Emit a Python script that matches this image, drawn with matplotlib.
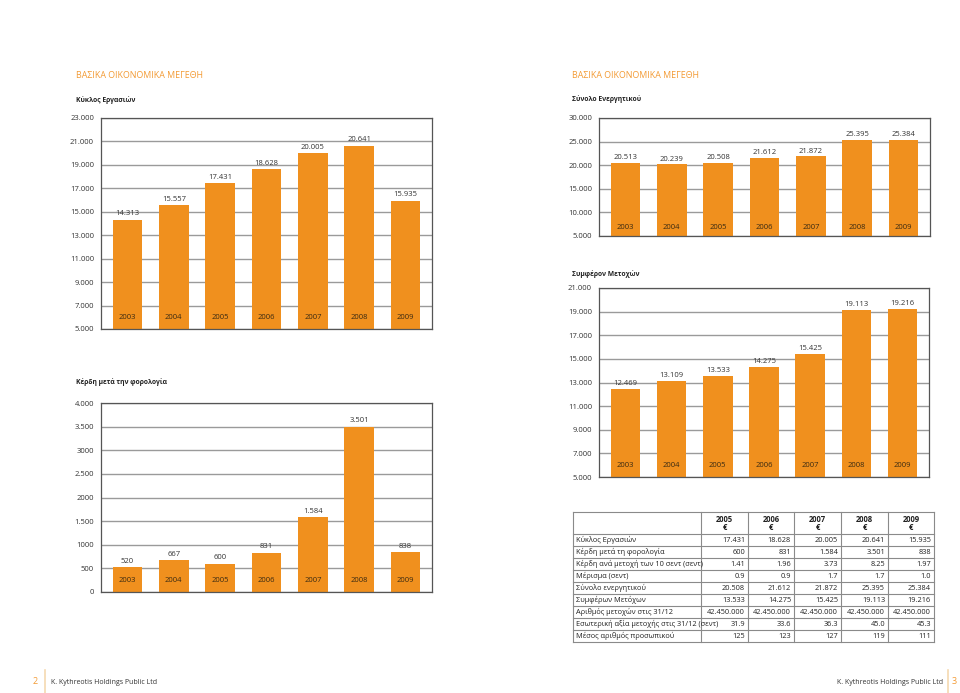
import matplotlib
matplotlib.use("Agg")
import matplotlib.pyplot as plt

plt.rcParams['font.family'] = ['Open Sans', 'DejaVu Sans']

# ------------------------------------
# -------------------data
# ------------------------------------
years = ['2003', '2004', '2005', '2006', '2007', '2008', '2009']

turnover = [14313, 15557, 17431, 18628, 20005, 20641, 15935]
turnover_ticks = ['5.000', '7.000', '9.000', '11.000', '13.000', '15.000',
                  '17.000', '19.000', '21.000', '23.000']

profit = [520, 667, 600, 831, 1584, 3501, 838]
profit_ticks = ['0', '500', '1000', '1.500', '2000', '2.500', '3000', '3.500', '4.000']

assets = [20513, 20239, 20508, 21612, 21872, 25395, 25384]
assets_ticks = ['5.000', '10.000', '15.000', '20.000', '25.000', '30.000']

equity = [12469, 13109, 13533, 14275, 15425, 19113, 19216]
equity_ticks = ['5.000', '7.000', '9.000', '11.000', '13.000', '15.000',
                '17.000', '19.000', '21.000']

table_years = ['2005', '2006', '2007', '2008', '2009']
table_rows = ['Κύκλος Εργασιών', 'Κέρδη μετά τη φορολογία',
              'Κέρδη ανά μετοχή των 10 σεντ (σεντ)', 'Μέρισμα (σεντ)',
              'Σύνολο ενεργητικού', 'Συμφέρων Μετόχων',
              'Αριθμός μετοχών στις 31/12',
              'Εσωτερική αξία μετοχής στις 31/12 (σεντ)',
              'Μέσος αριθμός προσωπικού']
table_values = [
    ['17.431', '18.628', '20.005', '20.641', '15.935'],
    ['600', '831', '1.584', '3.501', '838'],
    ['1.41', '1.96', '3.73', '8.25', '1.97'],
    ['0.9', '0.9', '1.7', '1.7', '1.0'],
    ['20.508', '21.612', '21.872', '25.395', '25.384'],
    ['13.533', '14.275', '15.425', '19.113', '19.216'],
    ['42.450.000', '42.450.000', '42.450.000', '42.450.000', '42.450.000'],
    ['31.9', '33.6', '36.3', '45.0', '45.3'],
    ['125', '123', '127', '119', '111'],
]

W, H = 960, 693
ORANGE = '#f0901e'
HEAD = '#f39b35'
fig = plt.figure(figsize=(W / 100, H / 100), dpi=100)


def px_axes(x0, y0, x1, y1):
    # pixel box (top-left origin) -> figure axes
    return fig.add_axes([x0 / W, 1 - y1 / H, (x1 - x0) / W, (y1 - y0) / H])


def fmt(v):
    return f"{v:,}".replace(",", ".")


def bar_chart(box, values, ticklabels, ymin, step):
    ax = px_axes(*box)
    ticks = [ymin + i * step for i in range(len(ticklabels))]
    x = range(len(values))
    ax.bar(x, [v - ymin for v in values], bottom=ymin, width=0.64,
           color=ORANGE, zorder=2)
    ax.set_xlim(-0.57, len(values) - 0.43)
    ax.set_ylim(ticks[0], ticks[-1])
    ax.set_yticks(ticks)
    ax.set_yticklabels(ticklabels, fontsize=5.5, color='#333333')
    ax.tick_params(axis='y', length=0, pad=5)
    ax.set_xticks([])
    ax.grid(axis='y', color='#9a9a9a', linewidth=1.0, zorder=1)
    for s in ax.spines.values():
        s.set_color('#555555')
        s.set_linewidth(0.9)
    span = ticks[-1] - ticks[0]
    for i, v in enumerate(values):
        ax.text(i, v + span * 0.012, fmt(v), ha='center', va='bottom',
                fontsize=5.5, color='#333333', zorder=3)
        ax.text(i, ymin + span * 0.04, years[i], ha='center', va='bottom',
                fontsize=5.5, color='#3a2a12', zorder=3)
    return ax


# headers
fig.text(76 / W, 1 - 75 / H, 'ΒΑΣΙΚΑ ΟΙΚΟΝΟΜΙΚΑ ΜΕΓΕΘΗ', color=HEAD,
         fontsize=6.4, va='center')
fig.text(572 / W, 1 - 75 / H, 'ΒΑΣΙΚΑ ΟΙΚΟΝΟΜΙΚΑ ΜΕΓΕΘΗ', color=HEAD,
         fontsize=6.4, va='center')
sub = dict(fontsize=4.9, fontweight='bold', va='center', color='#222222')
fig.text(76 / W, 1 - 100 / H, 'Κύκλος Εργασιών', **sub)
fig.text(76 / W, 1 - 382 / H, 'Κέρδη μετά την φορολογία', **sub)
fig.text(572 / W, 1 - 99 / H, 'Σύνολο Ενεργητικού', **sub)
fig.text(572 / W, 1 - 274 / H, 'Συμφέρον Μετοχών', **sub)

# charts
bar_chart((101, 118, 432, 329), turnover, turnover_ticks, 5000, 2000)
bar_chart((101, 403, 432, 592), profit, profit_ticks, 0, 500)
bar_chart((599, 118, 930, 236), assets, assets_ticks, 5000, 5000)
bar_chart((599, 288, 929, 477), equity, equity_ticks, 5000, 2000)

# -------------------table-----------------------
tx0, ty0, tx1, ty1 = 573, 512, 934, 642
tab = px_axes(tx0, ty0, tx1, ty1)
tab.set_xlim(tx0, tx1)
tab.set_ylim(ty1, ty0)
tab.axis('off')
col_edges = [573, 701, 748, 794, 841, 888, 934]
row_edges = [512, 534] + [534 + 12 * (i + 1) for i in range(8)] + [642]
lc = '#8a8a8a'
for xe in col_edges:
    tab.plot([xe, xe], [ty0, ty1], color=lc, lw=0.8, clip_on=False)
for ye in row_edges:
    tab.plot([tx0, tx1], [ye, ye], color=lc, lw=0.8, clip_on=False)
for j, yr in enumerate(table_years):
    cx = (col_edges[j + 1] + col_edges[j + 2]) / 2
    tab.text(cx, 520, yr, ha='center', va='center', fontsize=5.5,
             fontweight='bold', color='#222222')
    tab.text(cx, 528, '€', ha='center', va='center', fontsize=5.5,
             fontweight='bold', color='#222222')
for i, label in enumerate(table_rows):
    cy = (row_edges[i + 1] + row_edges[i + 2]) / 2
    tab.text(col_edges[0] + 3, cy, label, ha='left', va='center',
             fontsize=5.3, color='#222222')
    for j, val in enumerate(table_values[i]):
        tab.text(col_edges[j + 2] - 3, cy, val, ha='right', va='center',
                 fontsize=5.3, color='#222222')

# -------------------footer-----------------------
fig.text(35 / W, 1 - 682 / H, '2', color=HEAD, fontsize=6.5, va='center',
         ha='center')
fig.add_artist(plt.Line2D([45 / W, 45 / W], [1 - 670 / H, 1 - 693 / H],
                          color='#f5d9b0', lw=1.2))
fig.text(51 / W, 1 - 682 / H, 'K. Kythreotis Holdings Public Ltd', fontsize=5.0,
         va='center', color='#333333')
fig.text(943 / W, 1 - 682 / H, 'K. Kythreotis Holdings Public Ltd', fontsize=5.0,
         va='center', ha='right', color='#333333')
fig.add_artist(plt.Line2D([948 / W, 948 / W], [1 - 670 / H, 1 - 693 / H],
                          color='#f5d9b0', lw=1.2))
fig.text(954 / W, 1 - 682 / H, '3', color=HEAD, fontsize=6.5, va='center',
         ha='center')

fig.savefig('out.png', dpi=100)
